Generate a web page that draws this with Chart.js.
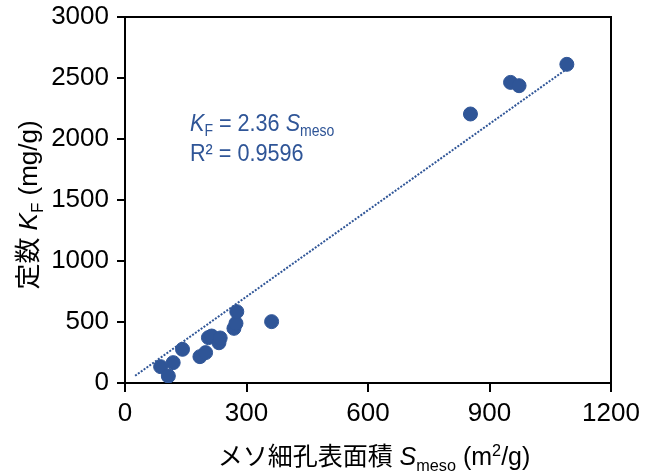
<!DOCTYPE html>
<html><head><meta charset="utf-8">
<script src="https://cdn.jsdelivr.net/npm/chart.js@4"></script>
<style>html,body{margin:0;padding:0;background:#fff}#wrap{width:652px;height:476px}</style>
</head><body><div id="wrap"><canvas id="c" width="652" height="476"></canvas></div>
<script>
const sMeso = [88, 107, 119, 142, 185, 199, 206, 214, 232, 235, 269, 274, 276, 362, 853, 952, 973, 1091];
const kF = [134, 57, 167, 276, 216, 249, 372, 385, 330, 369, 448, 489, 585, 503, 2205, 2464, 2437, 2612];
const slope = 2.36;
const r2 = "0.9596";
const trendRange = [25, 1090];
const xTicks = [0, 300, 600, 900, 1200];
const yTicks = [0, 500, 1000, 1500, 2000, 2500, 3000];
const blue = '#2f5597';
const FONT = '"Liberation Sans", Arial, "Noto Sans CJK JP", sans-serif';
const NARROW = '"Liberation Sans Narrow", "Arial Narrow", "Liberation Sans", sans-serif';

function richWidth(ctx, segs, size){
  let w=0;
  for(const s of segs){
    const fs = (s.sub||s.sup)? size*0.65 : size;
    ctx.font = (s.italic?'italic ':'') + fs + 'px ' + FONT;
    w += ctx.measureText(s.t).width;
  }
  return w;
}
function drawRich(ctx, segs, x, y, size, color){
  ctx.fillStyle = color; ctx.textBaseline='alphabetic'; ctx.textAlign='left';
  for(const s of segs){
    const fs = (s.sub||s.sup)? size*0.65 : size;
    ctx.font = (s.italic?'italic ':'') + fs + 'px ' + FONT;
    const dy = s.sub ? size*0.22 : (s.sup ? -size*0.38 : 0);
    ctx.fillText(s.t, x, y+dy);
    x += ctx.measureText(s.t).width;
  }
}

const decor = {
  id:'decor',
  afterDraw(chart){
    const ctx = chart.ctx, a = chart.chartArea;
    ctx.save();
    ctx.strokeStyle='#000'; ctx.lineWidth=2;
    ctx.beginPath();
    ctx.moveTo(a.left, a.top); ctx.lineTo(a.right, a.top); ctx.lineTo(a.right, a.bottom);
    ctx.stroke();
    // annotation (slightly condensed)
    ctx.save();
    ctx.translate(190, 0); ctx.scale(0.9, 1);
    drawRich(ctx, [{t:'K',italic:true},{t:'F',sub:true},{t:' = '+slope+' '},{t:'S',italic:true},{t:'meso',sub:true}], 0, 131, 24, blue);
    drawRich(ctx, [{t:'R² = '+r2}], 0, 161, 24, blue);
    ctx.restore();
    // x title
    const xs = [{t:'メソ細孔表面積 '},{t:'S',italic:true},{t:'meso',sub:true},{t:' (m'},{t:'2',sup:true},{t:'/g)'}];
    const xw = richWidth(ctx, xs, 25);
    drawRich(ctx, xs, 374 - xw/2, 465, 25, '#000');
    // y title
    const ys = [{t:'定数 '},{t:'K',italic:true},{t:'F',sub:true},{t:' (mg/g)'}];
    const yw = richWidth(ctx, ys, 26);
    ctx.translate(37, 205);
    ctx.rotate(-Math.PI/2);
    drawRich(ctx, ys, -yw/2, 0, 26, '#000');
    ctx.restore();
  }
};

new Chart(document.getElementById('c'), {
  type:'scatter',
  data:{
    datasets:[
      {label:'data', data: sMeso.map((x,i)=>({x:x,y:kF[i]})), backgroundColor:blue, borderColor:blue, pointRadius:7, pointHoverRadius:7, order:1},
      {label:'trend', type:'line', data: trendRange.map(x=>({x:x,y:slope*x})), borderColor:blue, borderWidth:2, borderDash:[2,1.5], pointRadius:0, fill:false, order:2}
    ]
  },
  options:{
    responsive:false, animation:false,
    layout:{padding:{left:0,right:41,top:17,bottom:0}},
    plugins:{legend:{display:false}, tooltip:{enabled:false}},
    scales:{
      x:{type:'linear', min:0, max:1200,
        afterBuildTicks(s){s.ticks = xTicks.map(v=>({value:v}));},
        afterFit(s){s.height = 476-383; s.paddingLeft=0; s.paddingRight=0;},
        grid:{drawOnChartArea:false, drawTicks:true, tickLength:9, color:'#000', lineWidth:2},
        border:{color:'#000', width:2},
        ticks:{color:'#000', font:{family:NARROW, size:26}, padding:6, maxRotation:0, callback:v=>String(v)}
      },
      y:{type:'linear', min:0, max:3000,
        afterBuildTicks(s){s.ticks = yTicks.map(v=>({value:v}));},
        afterFit(s){s.width = 125; s.paddingTop=0; s.paddingBottom=0;},
        grid:{drawOnChartArea:false, drawTicks:true, tickLength:8, color:'#000', lineWidth:2},
        border:{color:'#000', width:2},
        ticks:{color:'#000', font:{family:NARROW, size:26}, padding:8, callback:v=>String(v)}
      }
    }
  },
  plugins:[decor]
});
</script></body></html>
